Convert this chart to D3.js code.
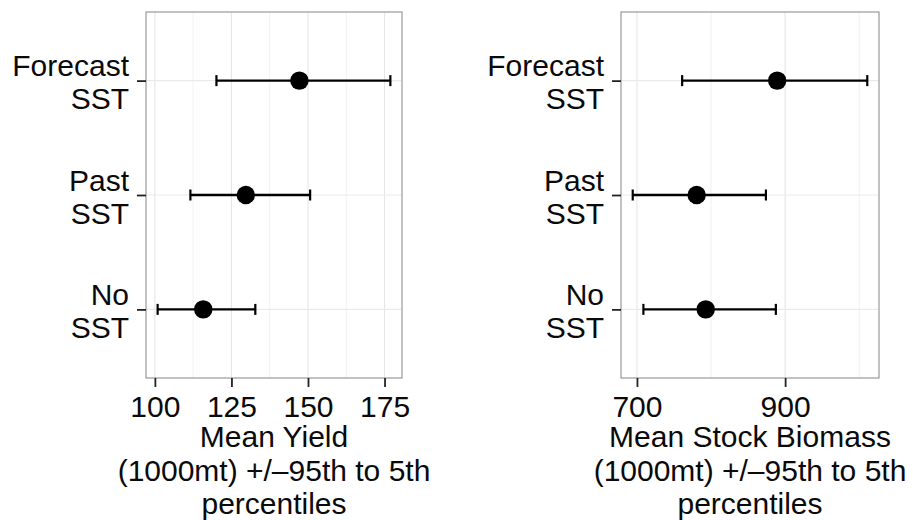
<!DOCTYPE html>
<html>
<head>
<meta charset="utf-8">
<style>
  body { margin: 0; background: #fff; }
  svg { display: block; font-family: "Liberation Sans", Arial, Helvetica, sans-serif; }
</style>
</head>
<body>
<div id="chart"></div>
<script src="https://d3js.org/d3.v7.min.js"></script>
<script>
// categories, bottom to top
const categories = ["No SST", "Past SST", "Forecast SST"];
const categoryLines = [["No", "SST"], ["Past", "SST"], ["Forecast", "SST"]];

// Mean Yield (1000mt)
const yieldMean = [115.8, 129.7, 147.2];
const yieldLow  = [100.9, 111.6, 120.1];
const yieldHigh = [132.8, 150.7, 176.9];
const yieldTicks = [100, 125, 150, 175];

// Mean Stock Biomass (1000mt)
const biomassMean = [792.8, 780.6, 889.3];
const biomassLow  = [708.7, 694.3, 761.0];
const biomassHigh = [887.5, 874.1, 1010.9];
const biomassTicks = [700, 900];

const titleLines = [
  ["Mean Yield", "(1000mt) +/\u201395th to 5th", "percentiles"],
  ["Mean Stock Biomass", "(1000mt) +/\u201395th to 5th", "percentiles"]
];

const W = 913, H = 520;
const svg = d3.select("#chart").append("svg")
  .attr("width", W).attr("height", H)
  .attr("viewBox", [0, 0, W, H]);

const fontSize = 30;
const textColor = "#0a0a0a";

const panels = [
  { left: 146, right: 402, mean: yieldMean, low: yieldLow, high: yieldHigh, ticks: yieldTicks, title: titleLines[0] },
  { left: 621, right: 879, mean: biomassMean, low: biomassLow, high: biomassHigh, ticks: biomassTicks, title: titleLines[1] }
];
const panelTop = 12, panelBottom = 378;

panels.forEach(p => {
  const lo = d3.min(p.low), hi = d3.max(p.high);
  const pad = (hi - lo) * 0.05;
  const x = d3.scaleLinear().domain([lo - pad, hi + pad]).range([p.left, p.right]);
  const y = d3.scalePoint().domain(categories).range([panelBottom, panelTop]).padding(0.6);

  const g = svg.append("g");

  // minor grid: midpoints between major breaks
  const step = p.ticks[1] - p.ticks[0];
  const minors = d3.range(p.ticks[0] - step / 2, hi + pad + step, step)
    .filter(v => v > x.domain()[0] && v < x.domain()[1]);
  g.selectAll(".minor").data(minors).join("line")
    .attr("x1", d => x(d)).attr("x2", d => x(d))
    .attr("y1", panelTop).attr("y2", panelBottom)
    .attr("stroke", "#f1f1f1").attr("stroke-width", 1);

  // major grid
  g.selectAll(".majorx").data(p.ticks).join("line")
    .attr("x1", d => x(d)).attr("x2", d => x(d))
    .attr("y1", panelTop).attr("y2", panelBottom)
    .attr("stroke", "#e6e6e6").attr("stroke-width", 1.1);
  g.selectAll(".majory").data(categories).join("line")
    .attr("x1", p.left).attr("x2", p.right)
    .attr("y1", d => y(d)).attr("y2", d => y(d))
    .attr("stroke", "#eaeaea").attr("stroke-width", 1.1);

  // error bars
  const bars = g.selectAll(".bar").data(categories).join("g");
  bars.append("line")
    .attr("x1", (d, i) => x(p.low[i])).attr("x2", (d, i) => x(p.high[i]))
    .attr("y1", d => y(d)).attr("y2", d => y(d))
    .attr("stroke", "#000").attr("stroke-width", 2.3);
  bars.append("line")
    .attr("x1", (d, i) => x(p.low[i])).attr("x2", (d, i) => x(p.low[i]))
    .attr("y1", d => y(d) - 5.5).attr("y2", d => y(d) + 5.5)
    .attr("stroke", "#000").attr("stroke-width", 2.2);
  bars.append("line")
    .attr("x1", (d, i) => x(p.high[i])).attr("x2", (d, i) => x(p.high[i]))
    .attr("y1", d => y(d) - 5.5).attr("y2", d => y(d) + 5.5)
    .attr("stroke", "#000").attr("stroke-width", 2.2);
  bars.append("circle")
    .attr("cx", (d, i) => x(p.mean[i])).attr("cy", d => y(d))
    .attr("r", 9.2).attr("fill", "#000");

  // panel border
  g.append("rect")
    .attr("x", p.left).attr("y", panelTop)
    .attr("width", p.right - p.left).attr("height", panelBottom - panelTop)
    .attr("fill", "none").attr("stroke", "#999").attr("stroke-width", 1.2);

  // x axis
  const xa = svg.append("g").attr("transform", `translate(0,${panelBottom})`)
    .call(d3.axisBottom(x).tickValues(p.ticks).tickSize(9).tickPadding(9));
  xa.select(".domain").remove();
  xa.selectAll(".tick line").attr("stroke", "#222").attr("stroke-width", 1.8);
  xa.selectAll(".tick text").attr("font-size", fontSize).attr("fill", textColor)
    .attr("font-family", "Liberation Sans, Arial, sans-serif");

  // y axis
  const ya = svg.append("g").attr("transform", `translate(${p.left},0)`)
    .call(d3.axisLeft(y).tickSize(9).tickPadding(8));
  ya.select(".domain").remove();
  ya.selectAll(".tick line").attr("stroke", "#222").attr("stroke-width", 1.8);
  ya.selectAll(".tick text").each(function (d, i) {
    const t = d3.select(this).text(null)
      .attr("font-size", fontSize).attr("fill", textColor)
      .attr("font-family", "Liberation Sans, Arial, sans-serif")
      .attr("dy", null);
    categoryLines[i].forEach((line, k) => {
      t.append("tspan").attr("x", -17)
        .attr("y", k === 0 ? -5 : 28)
        .text(line);
    });
  });

  // axis title
  const cx = (p.left + p.right) / 2;
  svg.append("text")
    .attr("text-anchor", "middle").attr("font-size", fontSize).attr("fill", textColor)
    .selectAll("tspan").data(p.title).join("tspan")
    .attr("x", cx).attr("y", (d, i) => 447 + i * 33.5)
    .text(d => d);
});
</script>
</body>
</html>
